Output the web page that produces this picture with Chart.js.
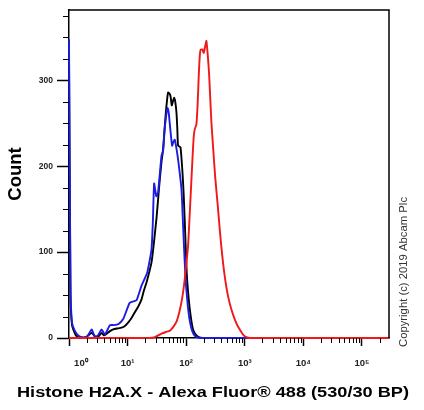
<!DOCTYPE html>
<html lang="en">
<head>
    <meta charset="UTF-8">
    <title>Histone H2A.X - Alexa Fluor 488</title>
    <script src="https://cdn.jsdelivr.net/npm/chart.js"></script>
    <style>
        body {
            margin: 0;
            padding: 0;
            background-color: #fff;
        }
    </style>
</head>
<body>
    <canvas id="histChart" width="424" height="410"></canvas>

    <script>
        // channel values (log axis) and counts
        const redX = [1, 24, 29.2, 37.9, 44.9, 52.6, 60.3, 68.4, 76.3, 83.2, 89.3, 94.7, 101.2, 107.7, 115.2, 123.1, 129.5, 134.8, 140.1, 149.8, 157.6, 163.9, 170.5, 177.3, 189.6, 199.4, 211.5, 221.7, 233.3, 245.6, 257.4, 269.8, 289.5, 313.2, 345.4, 373.6, 396.3, 425.3, 463.6, 517.4, 586.6, 673, 756.8, 875, 957.8, 1065, 1212, 290000];
        const redY = [0, 0, 1, 5, 7, 8.5, 13, 19, 30, 42, 55, 69, 88, 107, 145, 185, 215, 235, 243, 249, 275, 305, 328, 336, 336, 332, 340, 346, 330, 309, 280, 251, 220, 187, 155, 127, 108, 88, 68, 49, 34, 22, 14, 7, 3, 1, 0, 0];

        const blueX = [1, 1.06, 1.125, 1.265, 1.44, 1.665, 2.0, 2.19, 2.44, 2.77, 3.12, 3.61, 4.1, 5.0, 5.84, 6.92, 8.41, 9.73, 10.9, 14.2, 17.3, 21.6, 25.6, 27.0, 28.4, 30.9, 33.2, 37.9, 40.4, 43.2, 46.2, 48.0, 50.5, 52.6, 57.5, 60.3, 63.9, 67.8, 72.8, 83.2, 87.5, 92.8, 98.4, 106.5, 115.2, 127, 143, 170.5, 290000];
        const blueY = [348, 60, 18, 8, 3, 1, 1, 5, 10, 1, 3, 10, 4, 15, 15, 16, 22, 33, 41, 44, 61, 76, 103, 135, 180, 165, 170, 212, 218, 245, 262, 268, 262, 249, 224, 228, 231, 222, 208, 173, 140, 100, 65, 38, 20, 8, 2, 0, 0];

        const blackX = [1, 1.06, 1.125, 1.265, 1.35, 1.54, 1.95, 2.44, 2.77, 3.12, 3.61, 3.95, 4.39, 5.0, 5.68, 6.57, 7.9, 9.0, 10.2, 11.6, 13.3, 15.3, 17.3, 18.95, 21.1, 23.1, 25.6, 28.05, 31.2, 33.5, 35.5, 37.9, 40.4, 42.4, 44.9, 47.3, 49.2, 51.5, 54.0, 56.8, 59.1, 62.2, 65.2, 68.4, 70.5, 72.8, 80.0, 86.5, 91.0, 96.5, 102.4, 110.7, 119.8, 131.1, 145.7, 163.9, 191.8, 290000];
        const blackY = [330, 50, 15, 5, 2, 0, 1, 6, 2, 1, 6, 3, 5, 8, 10, 11, 12, 14, 18, 23, 30, 37, 45, 55, 65, 75, 88, 110, 140, 165, 185, 205, 220, 240, 262, 278, 286, 285, 282, 271, 275, 280, 275, 262, 245, 224, 222, 193, 165, 120, 75, 45, 25, 10, 4, 1, 0, 0];

        // axis ticks
        const xMin = 1;
        const xMax = 290000;
        const xTickValues = [];
        for (let e = 0; e <= 5; e++) {
            for (let m = 1; m <= 9; m++) {
                const v = m * Math.pow(10, e);
                if (v <= xMax) xTickValues.push(v);
            }
        }
        const supers = ['\u2070', '\u00B9', '\u00B2', '\u00B3', '\u2074', '\u2075'];
        const yTickValues = [0, 25, 50, 75, 100, 125, 150, 175, 200, 225, 250, 275, 300, 325, 350, 375];

        const xTitle = 'Histone H2A.X - Alexa Fluor\u00AE 488 (530/30 BP)';
        const yTitle = 'Count';
        const copyright = 'Copyright (c) 2019 Abcam Plc';

        function isDecade(v) {
            const l = Math.log10(v);
            return Math.abs(l - Math.round(l)) < 1e-9;
        }

        function points(xs, ys) {
            return xs.map((x, i) => ({ x: x, y: ys[i] }));
        }

        // short minor ticks, box frame, x title and the copyright line
        const extras = {
            id: 'extras',
            afterDraw(chart) {
                const ctx = chart.ctx;
                const area = chart.chartArea;
                const xs = chart.scales.x;
                const ys = chart.scales.y;
                ctx.save();
                ctx.strokeStyle = '#000';
                ctx.lineWidth = 1;
                ctx.beginPath();
                xTickValues.forEach(v => {
                    if (isDecade(v)) return;
                    const px = Math.round(xs.getPixelForValue(v)) + 0.5;
                    ctx.moveTo(px, area.bottom);
                    ctx.lineTo(px, area.bottom + 5);
                });
                yTickValues.forEach(v => {
                    if (v % 100 === 0) return;
                    const py = Math.round(ys.getPixelForValue(v)) + 0.5;
                    ctx.moveTo(area.left - 6, py);
                    ctx.lineTo(area.left, py);
                });
                ctx.stroke();

                ctx.lineWidth = 1.5;
                ctx.beginPath();
                ctx.moveTo(area.left, area.top);
                ctx.lineTo(area.right, area.top);
                ctx.lineTo(area.right, area.bottom);
                ctx.stroke();

                // x title, squeezed to the width it has in the original
                ctx.save();
                ctx.font = 'bold 14.5px "Liberation Sans", Arial, sans-serif';
                ctx.fillStyle = '#000';
                ctx.textAlign = 'center';
                ctx.textBaseline = 'middle';
                const w = ctx.measureText(xTitle).width;
                ctx.translate(213, 393);
                ctx.scale(392 / w, 1);
                ctx.fillText(xTitle, 0, 0);
                ctx.restore();

                ctx.translate(404, 272);
                ctx.rotate(-Math.PI / 2);
                ctx.fillStyle = '#333';
                ctx.font = '11.3px "Liberation Sans", Arial, sans-serif';
                ctx.textAlign = 'center';
                ctx.textBaseline = 'middle';
                ctx.fillText(copyright, 0, 0);
                ctx.restore();
            }
        };

        Chart.defaults.font.family = '"Liberation Sans", Arial, sans-serif';

        const ctx = document.getElementById('histChart').getContext('2d');
        const histChart = new Chart(ctx, {
            type: 'line',
            data: {
                datasets: [
                    { label: 'Histone H2A.X', data: points(redX, redY), borderColor: '#f01818' },
                    { label: 'Isotype', data: points(blueX, blueY), borderColor: '#1c1ce0' },
                    { label: 'Unlabelled', data: points(blackX, blackY), borderColor: '#000000' }
                ]
            },
            options: {
                responsive: false,
                animation: false,
                layout: { padding: { top: 10, right: 35, left: 0, bottom: 0 } },
                plugins: {
                    legend: { display: false },
                    tooltip: { enabled: false }
                },
                datasets: {
                    line: { clip: { left: 1, top: 0, right: 0, bottom: 3 } }
                },
                elements: {
                    point: { radius: 0 },
                    line: { borderWidth: 1.9, tension: 0.15, fill: false }
                },
                scales: {
                    x: {
                        type: 'logarithmic',
                        min: xMin,
                        max: xMax,
                        afterBuildTicks: scale => {
                            scale.ticks = xTickValues.map(v => ({ value: v }));
                        },
                        afterFit: scale => { scale.height = 72; },
                        grid: {
                            drawOnChartArea: false,
                            tickLength: 8,
                            tickWidth: 1.5,
                            tickColor: c => (c.tick && isDecade(c.tick.value)) ? '#000' : 'rgba(0,0,0,0)'
                        },
                        border: { color: '#000', width: 1.5 },
                        ticks: {
                            autoSkip: false,
                            maxRotation: 0,
                            padding: 12,
                            color: '#222',
                            font: { size: 9.5, weight: 'bold' },
                            callback: v => {
                                if (!isDecade(v)) return '';
                                const e = Math.round(Math.log10(v));
                                // the 10^0 label sits a little right of the axis in the original
                                return (e === 0 ? '         ' : '') + '10' + supers[e];
                            }
                        },
                        title: { display: false }
                    },
                    y: {
                        min: 0,
                        max: 382,
                        afterBuildTicks: scale => {
                            scale.ticks = yTickValues.map(v => ({ value: v }));
                        },
                        afterFit: scale => { scale.width = 69; },
                        grid: {
                            drawOnChartArea: false,
                            tickLength: 12,
                            tickWidth: 1.5,
                            tickColor: c => (c.tick && c.tick.value % 100 === 0) ? '#000' : 'rgba(0,0,0,0)'
                        },
                        border: { color: '#000', width: 1.5 },
                        ticks: {
                            autoSkip: false,
                            padding: 4,
                            color: '#222',
                            font: { size: 8.5, weight: 'bold' },
                            callback: v => v % 100 === 0 ? String(v) : ''
                        },
                        title: {
                            display: true,
                            text: yTitle,
                            color: '#000',
                            font: { size: 18.5, weight: 'bold' },
                            padding: { top: 5, bottom: 4 }
                        }
                    }
                }
            },
            plugins: [extras]
        });
    </script>
</body>
</html>
